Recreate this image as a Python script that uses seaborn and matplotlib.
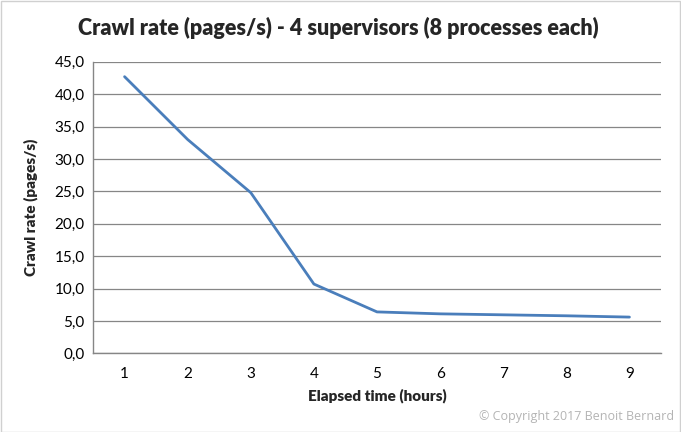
import matplotlib
matplotlib.use("Agg")
import matplotlib.pyplot as plt
import pandas as pd
import seaborn as sns
from matplotlib.ticker import FixedLocator, FuncFormatter

hours = [1, 2, 3, 4, 5, 6, 7, 8, 9]
crawl_rate = [42.7, 33.0, 24.8, 10.7, 6.4, 6.1, 5.95, 5.8, 5.6]
y_ticks = [0, 5, 10, 15, 20, 25, 30, 35, 40, 45]

df = pd.DataFrame({"hours": hours, "rate": crawl_rate})

sns.set_style("white")
plt.rcParams["font.family"] = ["Lato", "DejaVu Sans"]

fig = plt.figure(figsize=(6.81, 4.32), dpi=100)
ax = fig.add_axes([0.1366, 0.182, 0.834, 0.675])

sns.lineplot(x="hours", y="rate", data=df, ax=ax, color="#4A7EBB", linewidth=2.0)

ax.set_xlim(0.5, 9.5)
ax.set_ylim(0, 45)
ax.yaxis.set_major_locator(FixedLocator(y_ticks))
ax.yaxis.set_major_formatter(FuncFormatter(lambda v, p: f"{v:.1f}".replace(".", ",")))
ax.xaxis.set_major_locator(FixedLocator(hours))
ax.xaxis.set_minor_locator(FixedLocator([h - 0.5 for h in hours] + [9.5]))
ax.tick_params(axis="x", which="major", length=0, pad=10, labelsize=11, colors="black")
ax.tick_params(axis="x", which="minor", length=5, width=1, color="#868686", direction="out")
ax.tick_params(axis="y", which="major", length=0, pad=6, labelsize=11, colors="black")

ax.grid(axis="y", color="#868686", linewidth=0.9)
ax.set_axisbelow(True)
for side in ["top", "right"]:
    ax.spines[side].set_visible(False)
for side in ["left", "bottom"]:
    ax.spines[side].set_color("#868686")
    ax.spines[side].set_linewidth(1)

ax.set_xlabel("Elapsed time (hours)", fontsize=11, fontweight="heavy", labelpad=5)
ax.set_ylabel("Crawl rate (pages/s)", fontsize=11, fontweight="heavy", labelpad=12)

fig.text(0.497, 0.935, "Crawl rate (pages/s) - 4 supervisors (8 processes each)",
         ha="center", va="center", fontsize=15.5, fontweight="heavy")
fig.text(0.99, 0.035, "\u00a9 Copyright 2017 Benoit Bernard", ha="right", va="center",
         fontsize=9, color="#b4b4b4", family=["Open Sans", "DejaVu Sans"])

fig.patches.append(plt.Rectangle((0.001, 0.001), 0.997, 0.997, transform=fig.transFigure,
                                 fill=False, edgecolor="#d0d0d0", linewidth=1))

plt.savefig("out.png", dpi=100)
